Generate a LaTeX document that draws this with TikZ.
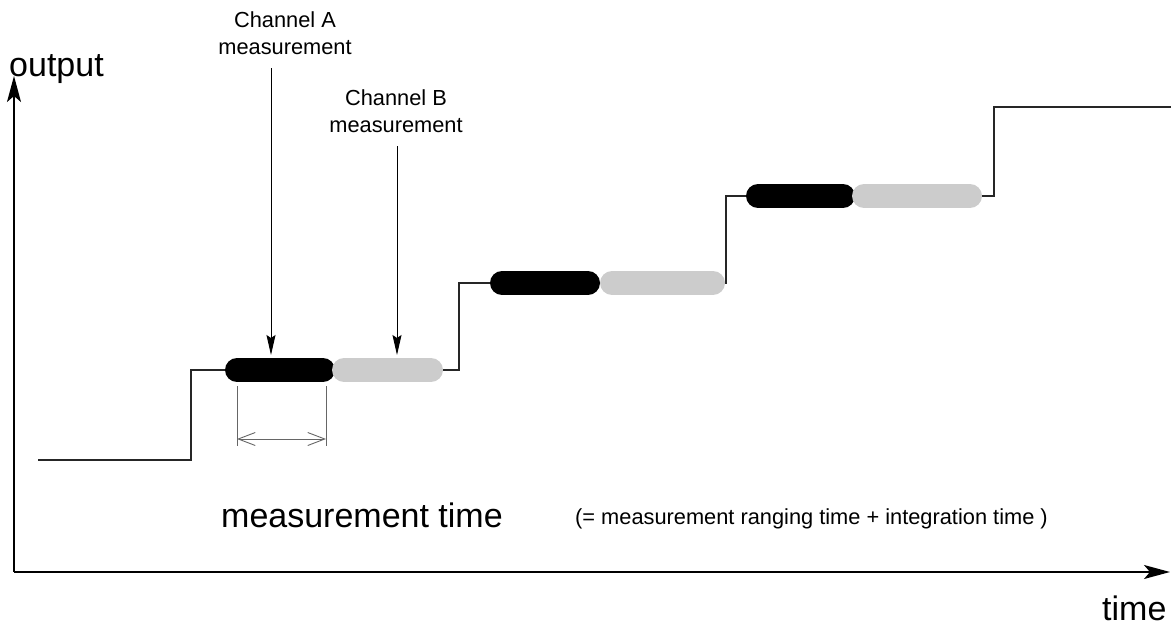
\documentclass[tikz,border=0pt]{standalone}
\usepackage{fontspec}
\setmainfont{Liberation Sans}
\usetikzlibrary{arrows.meta}
\definecolor{pillgray}{HTML}{CCCCCC}
\begin{document}
\begin{tikzpicture}[x=1pt,y=-1pt,
  stepline/.style={line width=1.4pt,draw=black!85},
  pillblack/.style={line width=24pt,line cap=round,draw=black},
  pillgray/.style={line width=24pt,line cap=round,draw=pillgray},
  axis/.style={line width=1.4pt,-{Stealth[length=26pt,width=14pt,inset=6pt]}},
  marker/.style={line width=1pt,-{Stealth[length=20pt,width=9pt,inset=3pt]}},
  dimline/.style={line width=0.9pt,draw=black!60},
  dimarrow/.style={line width=0.9pt,draw=black!60,{Straight Barb[length=17pt,width=13pt]}-{Straight Barb[length=17pt,width=13pt]}},
  smalltxt/.style={font=\fontsize{21.8}{27}\selectfont,inner sep=0pt,align=center},
  bigtxt/.style={font=\fontsize{34}{40}\selectfont,inner sep=0pt}
]
\useasboundingbox (0,0) rectangle (1171,629);

% axes
\coordinate (origin) at (14,572);
\coordinate (ytip) at (14,76);
\coordinate (xtip) at (1170,572);
\draw[axis] (origin) -- (ytip);
\draw[axis] (origin) -- (xtip);

% step curve
\coordinate (s0) at (38,460);
\coordinate (s1) at (191,460);
\coordinate (s2) at (191,370);
\coordinate (s3) at (459,370);
\coordinate (s4) at (459,283);
\coordinate (s5) at (726,283);
\coordinate (s6) at (726,196);
\coordinate (s7) at (994,196);
\coordinate (s8) at (994,107);
\coordinate (s9) at (1171,107);
\draw[stepline] (s0) -- (s1) -- (s2) -- (s3) -- (s4) -- (s5) -- (s6) -- (s7) -- (s8) -- (s9);

% pills
\coordinate (a1l) at (237,370); \coordinate (a1r) at (323,370);
\coordinate (b1l) at (344,370); \coordinate (b1r) at (431,370);
\coordinate (a2l) at (502,283); \coordinate (a2r) at (588,283);
\coordinate (b2l) at (612,283); \coordinate (b2r) at (713,283);
\coordinate (a3l) at (758,196); \coordinate (a3r) at (843,196);
\coordinate (b3l) at (864,196); \coordinate (b3r) at (970,196);
\draw[pillblack] (a1l) -- (a1r);
\draw[pillgray] (b1l) -- (b1r);
\draw[pillblack] (a2l) -- (a2r);
\draw[pillgray] (b2l) -- (b2r);
\draw[pillblack] (a3l) -- (a3r);
\draw[pillgray] (b3l) -- (b3r);

% channel labels and arrows
\node[smalltxt,anchor=base] (chA) at (285,54) {Channel A\\measurement};
\node[smalltxt,anchor=base] (chB) at (396,132) {Channel B\\measurement};
\coordinate (chAtop) at (271,68);
\coordinate (chAtip) at (271,355);
\coordinate (chBtop) at (397,146);
\coordinate (chBtip) at (397,355);
\draw[marker] (chAtop) -- (chAtip);
\draw[marker] (chBtop) -- (chBtip);

% measurement time dimension
\coordinate (t1a) at (237,386); \coordinate (t1b) at (237,446);
\coordinate (t2a) at (326,386); \coordinate (t2b) at (326,446);
\coordinate (d1) at (237,439); \coordinate (d2) at (326,439);
\draw[dimline] (t1a) -- (t1b);
\draw[dimline] (t2a) -- (t2b);
\draw[dimarrow] (d1) -- (d2);

% texts
\node[bigtxt,anchor=base west] (outlbl) at (9,76) {output};
\node[bigtxt,anchor=base west] (timelbl) at (1102,620) {time};
\node[bigtxt,anchor=base west] (mtime) at (221,527) {measurement time};
\node[smalltxt,anchor=base west] (mexpl) at (575,524) {(= measurement ranging time + integration time )};
\end{tikzpicture}
\end{document}
